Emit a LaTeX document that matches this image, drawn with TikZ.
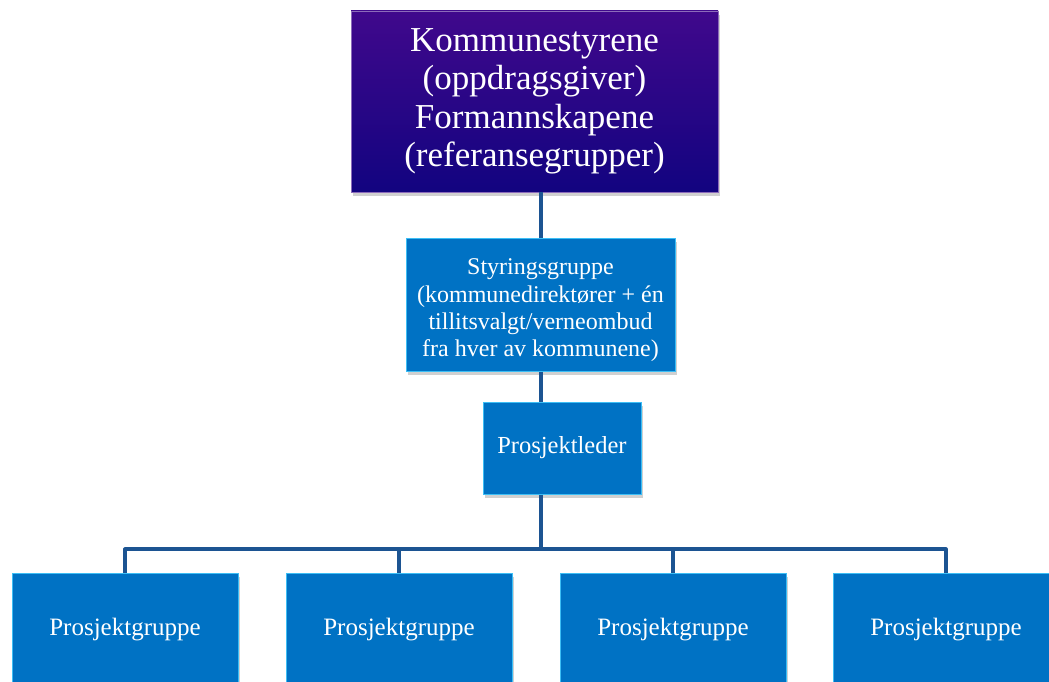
\documentclass[tikz,border=0pt]{standalone}
\usepackage{fontspec}
\setmainfont{Liberation Serif}
\usetikzlibrary{shadows}
\definecolor{boxblue}{RGB}{0,114,196}
\definecolor{edgecyan}{RGB}{60,190,245}
\definecolor{linkblue}{RGB}{28,84,146}
\definecolor{topA}{RGB}{64,8,140}
\definecolor{topB}{RGB}{18,4,128}
\tikzset{
  x=1pt, y=-1pt,
  shade/.style={drop shadow={shadow xshift=2pt, shadow yshift=-4pt, opacity=0.3, fill=black!60}},
  bluebox/.style={shade, fill=boxblue, draw=edgecyan, line width=1pt, text=white, align=center, inner sep=0pt},
  topbox/.style={shade, top color=topA, bottom color=topB, draw=topA!60!white, line width=0.6pt, text=white, align=center, inner sep=0pt},
  link/.style={draw=linkblue, line width=3.2pt}
}
\begin{document}
\begin{tikzpicture}
\useasboundingbox (0,0) rectangle (1049,682);
\fill[white] (0,0) rectangle (1049,682);
\coordinate (bar) at (541,549);
\node[topbox, minimum width=367pt, minimum height=181pt, font=\fontsize{35}{38.5}\selectfont] (top) at (534.5,101.5) {Kommunestyrene\\(oppdragsgiver)\\Formannskapene\\(referansegrupper)};
\node[bluebox, minimum width=269pt, minimum height=133pt,
  label={[text=white, align=center, inner sep=0pt, yshift=-6pt, font=\fontsize{24}{27.3}\selectfont]center:{Styringsgruppe\\(kommunedirektører + én\\tillitsvalgt/verneombud\\fra hver av kommunene)}}] (sty) at (540.5,304.5) {};
\node[bluebox, minimum width=158pt, minimum height=92pt, font=\fontsize{24.5}{26}\selectfont] (pl) at (562,448) {\raisebox{0pt}{Prosjektleder}};
\foreach \i/\cx in {1/125,2/399,3/673,4/946}{
  \node[bluebox, minimum width=226pt, minimum height=114pt, font=\fontsize{25}{26}\selectfont] (pg\i) at (\cx,630) {Prosjektgruppe};
}
\draw[link] (top.south -| 541,0) -- (sty.north -| 541,0);
\draw[link] (sty.south -| 541,0) -- (pl.north -| 541,0);
\draw[link] (pl.south -| 541,0) -- (bar);
\draw[link, line join=round] (pg1.north) -- (pg1.north |- bar) -- (pg4.north |- bar) -- (pg4.north);
\draw[link] (pg2.north) -- (pg2.north |- bar);
\draw[link] (pg3.north) -- (pg3.north |- bar);
\end{tikzpicture}
\end{document}
